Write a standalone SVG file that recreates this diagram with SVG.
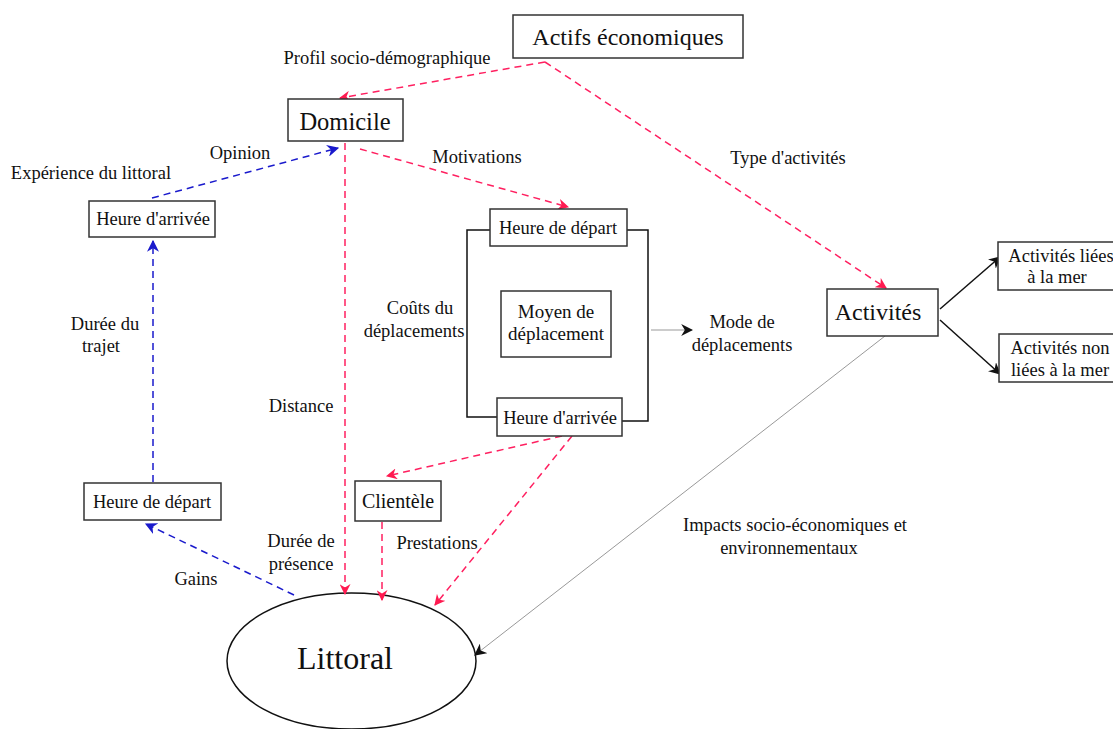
<svg xmlns="http://www.w3.org/2000/svg" width="1113" height="729" viewBox="0 0 1113 729" font-family="'Times New Roman', 'Liberation Serif', serif">
<defs>
<style>
text{font-family:'Times New Roman','Liberation Serif','DejaVu Serif',serif;fill:#111;text-anchor:middle}
.box{fill:#fff;stroke:#333;stroke-width:1.5}
.lbl{font-size:18.5px}
.sm{font-size:18.5px}
.red{stroke:#ff2060;stroke-width:1.5;stroke-dasharray:7 5;fill:none}
.blue{stroke:#1a1acc;stroke-width:1.5;stroke-dasharray:7 5;fill:none}
.blk{stroke:#111;stroke-width:1.5;fill:none}
.gry{stroke:#999;stroke-width:1;fill:none}
</style>
<marker id="ar" viewBox="0 0 10 10" refX="9" refY="5" markerWidth="11" markerHeight="11" markerUnits="userSpaceOnUse" orient="auto"><path d="M0,0 L10,5 L0,10 L3,5 z" fill="#ff1a50"/></marker>
<marker id="ab" viewBox="0 0 10 10" refX="9" refY="5" markerWidth="12" markerHeight="12" markerUnits="userSpaceOnUse" orient="auto"><path d="M0,0 L10,5 L0,10 L3,5 z" fill="#1a1acc"/></marker>
<marker id="ak" viewBox="0 0 10 10" refX="9" refY="5" markerWidth="12" markerHeight="12" markerUnits="userSpaceOnUse" orient="auto"><path d="M0,0 L10,5 L0,10 L3,5 z" fill="#111"/></marker>
</defs>
<rect width="1113" height="729" fill="#fff"/>
<g id="littoral"><ellipse cx="351.5" cy="661" rx="124.5" ry="68" fill="none" stroke="#111" stroke-width="1.5"/><text x="345" y="669" font-size="32">Littoral</text></g>
<g id="connectors">
<line class="red" x1="545" y1="62" x2="340" y2="98" marker-end="url(#ar)"/>
<line class="red" x1="545" y1="62" x2="886" y2="288" marker-end="url(#ar)"/>
<line class="red" x1="360" y1="149" x2="568" y2="207" marker-end="url(#ar)"/>
<line class="red" x1="345" y1="143" x2="345" y2="594" marker-end="url(#ar)"/>
<line class="red" x1="562" y1="436" x2="387" y2="476" marker-end="url(#ar)"/>
<line class="red" x1="572" y1="436" x2="435" y2="605" marker-end="url(#ar)"/>
<line class="red" x1="382" y1="522" x2="382" y2="600" marker-end="url(#ar)"/>
<line class="blue" x1="152" y1="198" x2="338" y2="148" marker-end="url(#ab)"/>
<line class="blue" x1="153" y1="482" x2="153" y2="241" marker-end="url(#ab)"/>
<line class="blue" x1="294" y1="595" x2="146" y2="524" marker-end="url(#ab)"/>
<polyline class="blk" points="490,230 467,230 467,417 497,417"/>
<polyline class="blk" points="627,230 648,230 648,421 622,421"/>
<line class="gry" x1="651" y1="330" x2="692" y2="330" marker-end="url(#ak)"/>
<line class="blk" x1="940" y1="309" x2="1000" y2="257" marker-end="url(#ak)"/>
<line class="blk" x1="940" y1="320" x2="1000" y2="374" marker-end="url(#ak)"/>
<line class="gry" x1="885" y1="336" x2="475" y2="655" marker-end="url(#ak)"/>
</g>
<g id="labels" class="lbl">
<text x="387" y="64">Profil socio-démographique</text>
<text x="240" y="159">Opinion</text>
<text x="91" y="179">Expérience du littoral</text>
<text x="477" y="163">Motivations</text>
<text x="788" y="164">Type d'activités</text>
<text x="105" y="330">Durée du</text>
<text x="101" y="352">trajet</text>
<text x="420" y="314">Coûts du</text>
<text x="414" y="337">déplacements</text>
<text x="742" y="328">Mode de</text>
<text x="742" y="351">déplacements</text>
<text x="301" y="412">Distance</text>
<text x="301" y="547">Durée de</text>
<text x="301" y="570">présence</text>
<text x="437" y="549">Prestations</text>
<text x="196" y="585">Gains</text>
<text x="795" y="531">Impacts socio-économiques et</text>
<text x="789" y="554">environnementaux</text>
</g>
<g id="actifs"><rect class="box" x="513" y="15" width="230" height="43"/><text x="628" y="45" font-size="24">Actifs économiques</text></g>
<g id="domicile"><rect class="box" x="288" y="99" width="115" height="42"/><text x="345" y="130" font-size="24.5">Domicile</text></g>
<g id="arrivee-left"><rect class="box" x="89" y="201" width="126" height="36"/><text x="153" y="225" class="sm">Heure d'arrivée</text></g>
<g id="depart-left"><rect class="box" x="84" y="483" width="137" height="37"/><text x="152" y="508" class="sm">Heure de départ</text></g>
<g id="depart-mid"><rect class="box" x="490" y="209" width="137" height="37"/><text x="558" y="234" class="sm">Heure de départ</text></g>
<g id="moyen"><rect class="box" x="501" y="291" width="110" height="66"/><text x="556" y="318" font-size="19">Moyen de</text><text x="556" y="340" font-size="19">déplacement</text></g>
<g id="arrivee-mid"><rect class="box" x="497" y="398" width="125" height="38"/><text x="560" y="424" class="sm">Heure d'arrivée</text></g>
<g id="clientele"><rect class="box" x="355" y="481" width="86" height="40"/><text x="398" y="508" font-size="20">Clientèle</text></g>
<g id="activites"><rect class="box" x="827" y="289" width="111" height="47"/><text x="878" y="320" font-size="24">Activités</text></g>
<g id="liees"><rect class="box" x="998" y="242" width="120" height="48"/><text x="1061" y="262" class="sm">Activités liées</text><text x="1057" y="283" class="sm">à la mer</text></g>
<g id="nonliees"><rect class="box" x="999" y="334" width="120" height="48"/><text x="1060" y="354" class="sm">Activités non</text><text x="1060" y="376" class="sm">liées à la mer</text></g>
</svg>
